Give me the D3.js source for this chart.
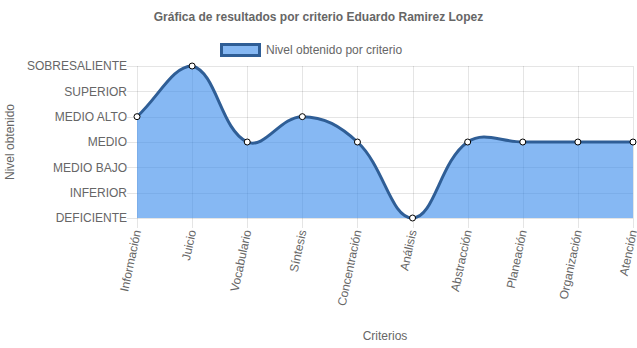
<!DOCTYPE html>
<html>
<head>
<meta charset="utf-8">
<script src="https://cdn.jsdelivr.net/npm/d3@7"></script>
<style>
  html, body { margin: 0; padding: 0; background: #fff; }
  svg { display: block; font-family: "Liberation Sans", Arial, Helvetica, sans-serif; }
</style>
</head>
<body>
<svg id="chart" width="637" height="348"></svg>
<script>
// Criteria evaluated (x axis)
const categories = ["Información", "Juicio", "Vocabulario", "Síntesis", "Concentración",
                    "Análisis", "Abstracción", "Planeación", "Organización", "Atención"];

// Achievement levels, lowest first (y axis tick labels)
const levels = ["DEFICIENTE", "INFERIOR", "MEDIO BAJO", "MEDIO", "MEDIO ALTO", "SUPERIOR", "SOBRESALIENTE"];

// Level obtained in each criterion
const values = ["MEDIO ALTO", "SOBRESALIENTE", "MEDIO", "MEDIO ALTO", "MEDIO",
                "DEFICIENTE", "MEDIO", "MEDIO", "MEDIO", "MEDIO"];

const title = "Gráfica de resultados por criterio Eduardo Ramirez Lopez";
const seriesName = "Nivel obtenido por criterio";
const xTitle = "Criterios";
const yTitle = "Nivel obtenido";

const W = 637, H = 348;
const margin = { left: 137, right: 4, top: 66, bottom: 130 };
const w = W - margin.left - margin.right;
const h = H - margin.top - margin.bottom;

const lineColor = "#2f5e96";
const fillColor = "rgba(54,137,235,0.6)";
const gridColor = "rgba(0,0,0,0.1)";
const textColor = "#666";

const svg = d3.select("#chart");

const x = d3.scalePoint().domain(categories).range([0, w]).padding(0);
const y = d3.scalePoint().domain(levels).range([h, 0]).padding(0);

// Tension-based bezier spline: control points scale with the distance
// to each neighbour and are kept inside the plotting area.
function splineCurve(context) {
  const t = 0.4;
  return {
    areaStart() { this._line = 0; },
    areaEnd() { this._line = NaN; },
    lineStart() { this._pts = []; },
    point(px, py) { this._pts.push([+px, +py]); },
    lineEnd() {
      const p = this._pts, n = p.length;
      if (n) {
        const cap = (v, lo, hi) => Math.max(lo, Math.min(hi, v));
        const cps = p.map((mid, i) => {
          const prev = p[i - 1] || mid, next = p[i + 1] || mid;
          const d01 = Math.hypot(mid[0] - prev[0], mid[1] - prev[1]);
          const d12 = Math.hypot(next[0] - mid[0], next[1] - mid[1]);
          let s01 = d01 / (d01 + d12), s12 = d12 / (d01 + d12);
          if (!isFinite(s01)) s01 = 0;
          if (!isFinite(s12)) s12 = 0;
          const fa = t * s01, fb = t * s12;
          const dx = next[0] - prev[0], dy = next[1] - prev[1];
          return {
            pin: [cap(mid[0] - fa * dx, 0, w), cap(mid[1] - fa * dy, 0, h)],
            pout: [cap(mid[0] + fb * dx, 0, w), cap(mid[1] + fb * dy, 0, h)]
          };
        });
        if (this._line) context.lineTo(p[0][0], p[0][1]);
        else context.moveTo(p[0][0], p[0][1]);
        for (let i = 1; i < n; i++) {
          const a = cps[i - 1].pout, b = cps[i].pin;
          context.bezierCurveTo(a[0], a[1], b[0], b[1], p[i][0], p[i][1]);
        }
      }
      if (this._line || (this._line !== 0 && n === 1)) context.closePath();
      this._line = 1 - this._line;
    }
  };
}

// Title
svg.append("text")
  .attr("x", W / 2).attr("y", 21)
  .attr("text-anchor", "middle")
  .attr("font-size", 12).attr("font-weight", "bold")
  .attr("fill", textColor)
  .text(title);

// Legend
const legend = svg.append("g").attr("transform", "translate(220,43)");
legend.append("rect")
  .attr("x", 1.5).attr("y", 1.5).attr("width", 38).attr("height", 11)
  .attr("fill", fillColor).attr("stroke", lineColor).attr("stroke-width", 3);
legend.append("text")
  .attr("x", 46).attr("y", 11)
  .attr("font-size", 12).attr("fill", textColor)
  .text(seriesName);

const g = svg.append("g").attr("transform", `translate(${margin.left},${margin.top})`);

// Horizontal grid lines with tick marks
g.append("g")
  .selectAll("line")
  .data(levels)
  .join("line")
  .attr("x1", -10).attr("x2", w)
  .attr("y1", d => Math.round(y(d)) + 0.5).attr("y2", d => Math.round(y(d)) + 0.5)
  .attr("stroke", gridColor);

// Vertical grid lines with tick marks
g.append("g")
  .selectAll("line")
  .data(categories)
  .join("line")
  .attr("x1", d => Math.round(x(d)) + 0.5).attr("x2", d => Math.round(x(d)) + 0.5)
  .attr("y1", 0).attr("y2", h + 10)
  .attr("stroke", gridColor);

// Y tick labels
g.append("g")
  .selectAll("text")
  .data(levels)
  .join("text")
  .attr("x", -10).attr("y", d => y(d))
  .attr("dy", "0.35em")
  .attr("text-anchor", "end")
  .attr("font-size", 12).attr("fill", textColor)
  .text(d => d);

// X tick labels (rotated)
g.append("g")
  .selectAll("text")
  .data(categories)
  .join("text")
  .attr("transform", d => `translate(${x(d)},${h + 12}) rotate(-78)`)
  .attr("dy", "0.35em")
  .attr("text-anchor", "end")
  .attr("font-size", 12).attr("fill", textColor)
  .text(d => d);

// Axis titles
svg.append("text")
  .attr("x", margin.left + w / 2).attr("y", 340)
  .attr("text-anchor", "middle")
  .attr("font-size", 12).attr("fill", textColor)
  .text(xTitle);

svg.append("text")
  .attr("transform", `translate(14,${margin.top + h / 2}) rotate(-90)`)
  .attr("text-anchor", "middle")
  .attr("font-size", 12).attr("fill", textColor)
  .text(yTitle);

const data = categories.map((c, i) => ({ c, v: values[i] }));

// Filled area
g.append("path")
  .datum(data)
  .attr("d", d3.area().curve(splineCurve)
    .x(d => x(d.c)).y0(h).y1(d => y(d.v)))
  .attr("fill", fillColor);

// Line
g.append("path")
  .datum(data)
  .attr("d", d3.line().curve(splineCurve)
    .x(d => x(d.c)).y(d => y(d.v)))
  .attr("fill", "none")
  .attr("stroke", lineColor)
  .attr("stroke-width", 3);

// Points
g.append("g")
  .selectAll("circle")
  .data(data)
  .join("circle")
  .attr("cx", d => x(d.c)).attr("cy", d => y(d.v))
  .attr("r", 3)
  .attr("fill", "#fff")
  .attr("stroke", "#000")
  .attr("stroke-width", 1);
</script>
</body>
</html>
